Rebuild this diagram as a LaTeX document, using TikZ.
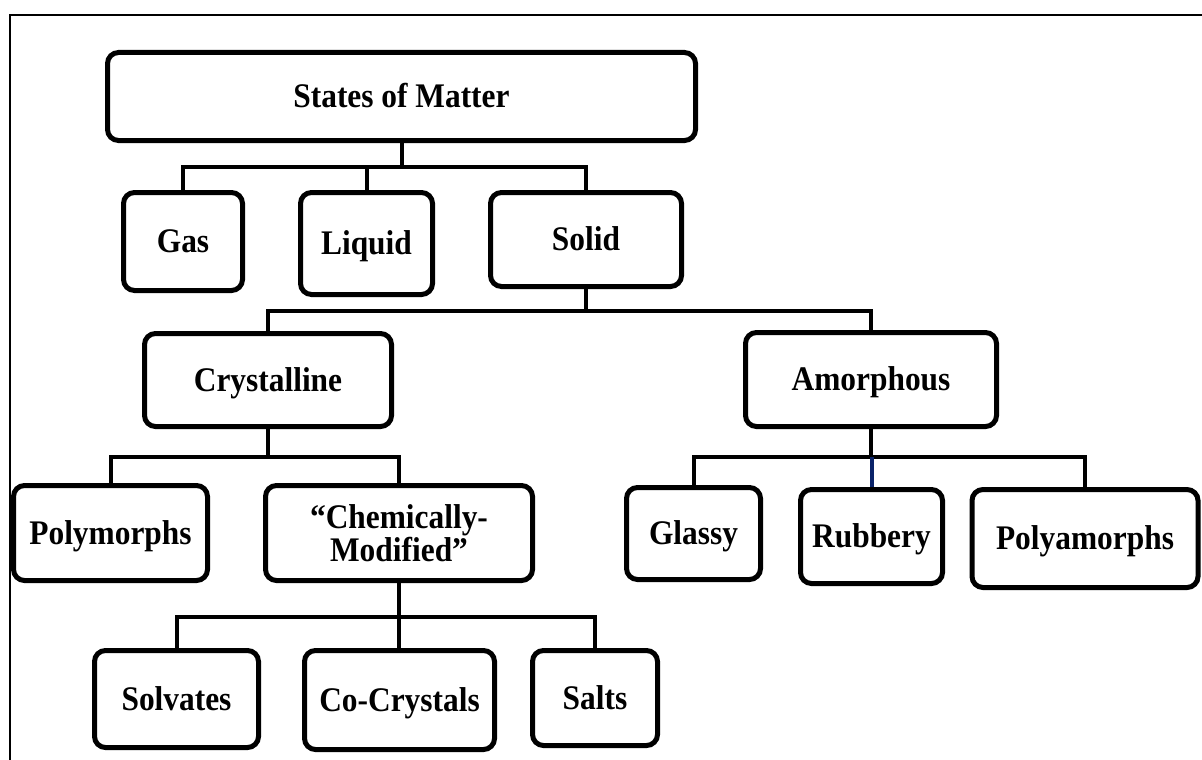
\documentclass[tikz,border=0pt]{standalone}
\usepackage{fontspec}
\setmainfont[FakeStretch=0.91]{Liberation Serif}
\definecolor{stemblue}{RGB}{10,35,105}
\begin{document}
\begin{tikzpicture}[x=1pt,y=-1pt,
  box/.style={draw, line width=5pt, rounded corners=11pt, inner sep=0pt, fill=white,
    font=\bfseries\fontsize{34.5}{31}\selectfont},
  one/.style={box, text height=27.5pt, text depth=4.7pt},
  two/.style={box, align=center},
  conn/.style={line width=4pt},
  frame/.style={line width=1.5pt}]
\useasboundingbox (0,0) rectangle (1202,760);

% open frame: top and left edges only
\draw[frame] (1202,15) -- (10,15) -- (10,760);

% level 0
\node[one, minimum width=588pt, minimum height=88pt] (som) at (401.5,96.5) {States of Matter};
% level 1
\node[one, minimum width=119pt, minimum height=98pt] (gas) at (183,241.5) {Gas};
\node[one, minimum width=132pt, minimum height=102pt] (liquid) at (366.5,243.5) {Liquid};
\node[one, minimum width=191pt, minimum height=94pt] (solid) at (586,239.5) {Solid};
% level 2
\node[one, minimum width=247pt, minimum height=93pt] (cryst) at (268,380) {Crystalline};
\node[one, minimum width=251pt, minimum height=94pt] (amorph) at (871,379.5) {Amorphous};
% level 3
\node[one, minimum width=194pt, minimum height=95pt] (poly) at (110.5,533) {Polymorphs};
\node[two, minimum width=267pt, minimum height=95pt] (cm) at (399,533) {“Chemically-\\Modified”};
\node[one, minimum width=134pt, minimum height=92pt] (glassy) at (693.5,533.5) {Glassy};
\node[one, minimum width=142pt, minimum height=94pt] (rubbery) at (871.5,536.5) {Rubbery};
\node[one, minimum width=226pt, minimum height=98pt] (polyam) at (1085,538.5) {Polyamorphs};
% level 4
\node[one, minimum width=164pt, minimum height=97pt] (solv) at (176.5,699) {Solvates};
\node[one, minimum width=190pt, minimum height=99pt] (cocr) at (399.5,700) {Co-Crystals};
\node[one, minimum width=125pt, minimum height=95pt] (salts) at (595,698) {Salts};

% bar heights
\coordinate (y1) at (0,167);
\coordinate (y2) at (0,311);
\coordinate (y3) at (0,457);
\coordinate (y4) at (0,617);
\coordinate (y5) at (0,457);

% States of Matter -> Gas, Liquid, Solid
\draw[conn] (som.south) -- (som.south |- y1);
\draw[conn] (gas.north) |- (solid.north |- y1) -- (solid.north);
\draw[conn] (liquid.north) -- (liquid.north |- y1);

% Solid -> Crystalline, Amorphous
\draw[conn] (solid.south) -- (solid.south |- y2);
\draw[conn] (cryst.north) |- (amorph.north |- y2) -- (amorph.north);

% Crystalline -> Polymorphs, Chemically-Modified
\draw[conn] (cryst.south) -- (cryst.south |- y3);
\draw[conn] (poly.north) |- (cm.north |- y3) -- (cm.north);

% Chemically-Modified -> Solvates, Co-Crystals, Salts
\draw[conn] (cm.south) -- (cm.south |- cocr.north);
\draw[conn] (solv.north) |- (salts.north |- y4) -- (salts.north);

% Amorphous -> Glassy, Rubbery, Polyamorphs
\draw[conn] (amorph.south) -- (amorph.south |- y5);
\draw[conn] (glassy.north) |- (polyam.north |- y5) -- (polyam.north);
\draw[conn, stemblue] (rubbery.north) -- (rubbery.north |- y5);
\end{tikzpicture}
\end{document}
